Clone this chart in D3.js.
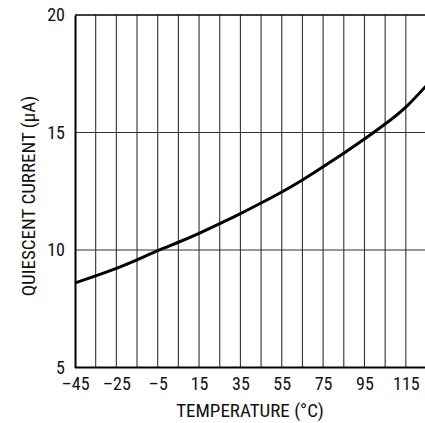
<!DOCTYPE html>
<html>
<head>
<meta charset="utf-8">
<script src="https://cdn.jsdelivr.net/npm/d3@7"></script>
<style>
  body { margin: 0; background: #fff; }
  svg { display: block; }
</style>
</head>
<body>
<svg></svg>
<script>
// curve
const temps = [-45, -35, -25, -15, -5, 5, 15, 25, 35, 45, 55, 65, 75, 85, 95, 105, 115, 125];
const current = [8.6, 8.9, 9.22, 9.58, 9.97, 10.33, 10.71, 11.12, 11.55, 12.0, 12.47, 12.98, 13.54, 14.12, 14.72, 15.36, 16.08, 17.0];

const xTicks = [-45, -25, -5, 15, 35, 55, 75, 95, 115];
const xGrid = [-35, -25, -15, -5, 5, 15, 25, 35, 45, 55, 65, 75, 85, 95, 105, 115];
const yTicks = [5, 10, 15, 20];

const WIDTH = 425;
const HEIGHT = 423;
const LEFT = 75;
const TOP = 15;
const BOTTOM = 367.5;
const RIGHT = 426.5;

const FONT = '"Liberation Sans Narrow", "Roboto Condensed", "Liberation Sans", Arial, sans-serif';

const svg = d3.select('svg').
attr('width', WIDTH).
attr('height', HEIGHT).
attr('font-family', FONT);

const xScale = d3.scaleLinear().domain([-45, 125]).range([LEFT, RIGHT]);
const yScale = d3.scaleLinear().domain([5, 20]).range([BOTTOM, TOP]);

/* --GRID-- */
svg.append('g').
selectAll('line').
data(xGrid).
join('line').
attr('x1', d => xScale(d)).
attr('x2', d => xScale(d)).
attr('y1', TOP).
attr('y2', BOTTOM).
attr('stroke', '#333').
attr('stroke-width', 1.1);

svg.append('g').
selectAll('line').
data([10, 15]).
join('line').
attr('x1', LEFT).
attr('x2', WIDTH).
attr('y1', d => yScale(d)).
attr('y2', d => yScale(d)).
attr('stroke', '#333').
attr('stroke-width', 1.1);

// frame
svg.append('line').
attr('x1', LEFT).attr('x2', WIDTH).
attr('y1', yScale(20)).attr('y2', yScale(20)).
attr('stroke', '#000').attr('stroke-width', 1.6);

/* --AXES-- */
const xAxis = d3.axisBottom(xScale).
tickValues(xTicks).
tickSize(0).
tickPadding(10).
tickFormat(d => d < 0 ? '\u2013' + Math.abs(d) : d);

const xg = svg.append('g').
attr('transform', `translate(0, ${BOTTOM})`).
call(xAxis);
xg.select('.domain').attr('stroke', '#000').attr('stroke-width', 2).attr('d', `M${LEFT},0H${WIDTH}`);
xg.selectAll('text').attr('font-size', 18).attr('font-family', FONT).attr('fill', '#111');

const yAxis = d3.axisLeft(yScale).
tickValues(yTicks).
tickSize(0).
tickPadding(10);

const yg = svg.append('g').
attr('transform', `translate(${LEFT}, 0)`).
call(yAxis);
yg.select('.domain').attr('stroke', '#000').attr('stroke-width', 2);
yg.selectAll('text').attr('font-size', 18).attr('font-family', FONT).attr('fill', '#111');

/* --TITLES-- */
svg.append('text').
attr('x', 250).
attr('y', 417).
attr('text-anchor', 'middle').
attr('font-size', 19).
attr('fill', '#111').
text('TEMPERATURE (\u00B0C)');

svg.append('text').
attr('transform', `translate(34.5, 196) rotate(-90)`).
attr('text-anchor', 'middle').
attr('font-size', 19).
attr('fill', '#111').
text('QUIESCENT CURRENT (\u00B5A)');

/* --CURVE-- */
const line = d3.line().
x((d, i) => xScale(temps[i])).
y(d => yScale(d)).
curve(d3.curveNatural);

svg.append('path').
datum(current).
attr('d', line).
attr('fill', 'none').
attr('stroke', '#000').
attr('stroke-width', 3);
</script>
</body>
</html>
